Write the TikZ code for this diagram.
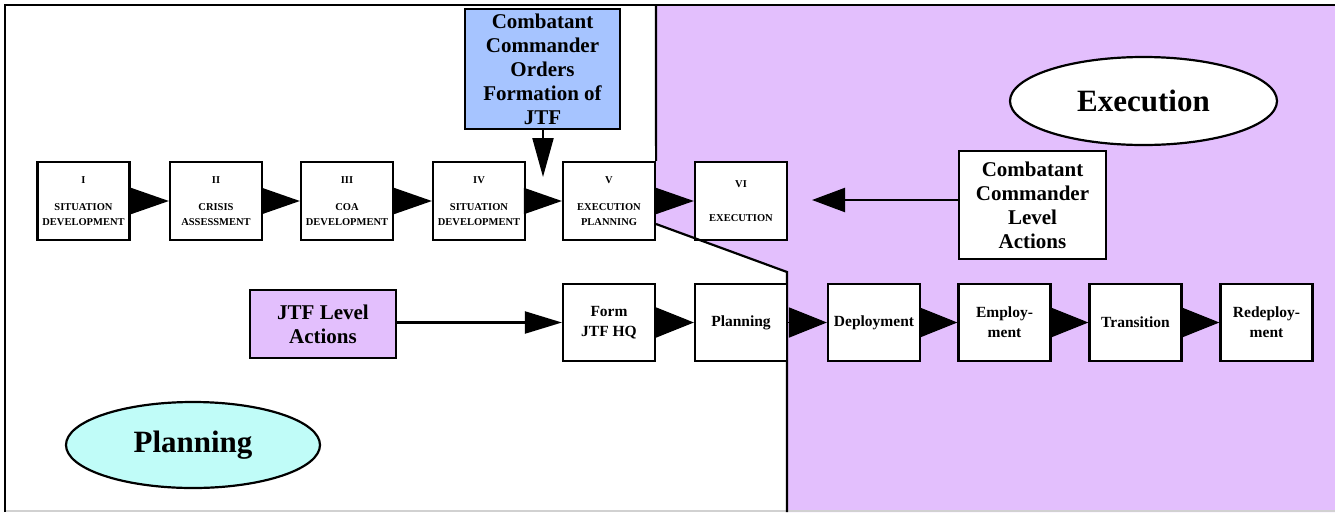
\documentclass[tikz,border=0pt]{standalone}
\usepackage{fontspec}
\setmainfont{Liberation Serif}
\usetikzlibrary{arrows.meta,shapes.geometric}
\definecolor{execpurple}{HTML}{E3BFFD}
\definecolor{ordersblue}{HTML}{A6C4FF}
\definecolor{plancyan}{HTML}{C0FCF8}
\tikzset{
  phasebox/.style={draw, line width=2.2pt, fill=white, minimum width=92, minimum height=78,
    inner sep=0pt, align=center, font=\bfseries\fontsize{10.5}{15}\selectfont},
  stagebox/.style={draw, line width=2.2pt, fill=white, minimum width=92, minimum height=77,
    inner sep=0pt, align=center, font=\bfseries\fontsize{15.5}{20}\selectfont},
  actionbox/.style={draw, line width=2.2pt, inner sep=0pt, align=center,
    font=\bfseries\fontsize{21}{24}\selectfont},
  phaseoval/.style={draw, ellipse, line width=2.2pt, inner sep=0pt,
    font=\bfseries\fontsize{31}{34}\selectfont},
  toparrow/.style={line width=1.8pt, -{Triangle[length=38pt,width=26pt]}},
  lowarrow/.style={line width=1.8pt, -{Triangle[length=38pt,width=30pt]}},
  feedarrow/.style={line width=2.2pt, -{Triangle[length=37pt,width=22pt]}},
  framerule/.style={line width=2.4pt},
  boundary/.style={line width=2.2pt}
}
\begin{document}
\begin{tikzpicture}[x=1pt,y=-1pt]
\useasboundingbox (0,0) rectangle (1335,512);

% execution side of the page
\fill[execpurple] (656,6) -- (1335,6) -- (1335,512) -- (787,512) -- (787,272) -- (656,224) -- cycle;
\draw[black!18, line width=1.5pt] (5,511.2) -- (1335,511.2);
\draw[framerule] (5,512) -- (5,5) -- (1335,5);

% crisis action planning phases
\node[phasebox] (p1) at (83.5,201) {I\\[12pt]SITUATION\\DEVELOPMENT};
\node[phasebox] (p2) at (216,201) {II\\[12pt]CRISIS\\ASSESSMENT};
\node[phasebox] (p3) at (347,201) {III\\[12pt]COA\\DEVELOPMENT};
\node[phasebox] (p4) at (479,201) {IV\\[12pt]SITUATION\\DEVELOPMENT};
\node[phasebox] (p5) at (609,201) {V\\[12pt]EXECUTION\\PLANNING};
\node[phasebox] (p6) at (741,201) {VI\\[19pt]EXECUTION};

% boundary between planning and execution
\coordinate (bendtop) at (656,224);
\coordinate (bendlow) at (787,272);
\draw[boundary] (656,5) -- (p5.north east);
\draw[boundary] (bendtop) -- (bendlow) -- (787,512);

% JTF stages
\node[stagebox] (s1) at (609,322.5) {Form\\JTF HQ};
\node[stagebox] (s2) at (741,322.5) {Planning};
\node[stagebox] (s3) at (874,322.5) {Deployment};
\node[stagebox] (s4) at (1004.5,322.5) {Employ-\\ment};
\node[stagebox] (s5) at (1135.5,322.5) {Transition};
\node[stagebox] (s6) at (1266.5,322.5) {Redeploy-\\ment};

% command level boxes
\node[actionbox, fill=ordersblue, minimum width=155, minimum height=120] (orders) at (542.5,69)
  {Combatant\\Commander\\Orders\\Formation of\\JTF};
\node[actionbox, fill=white, minimum width=147, minimum height=108] (ccla) at (1032.5,205)
  {Combatant\\Commander\\Level\\Actions};
\node[actionbox, fill=execpurple, minimum width=146, minimum height=68] (jtf) at (323,324)
  {JTF Level\\Actions};

% phase labels
\node[phaseoval, fill=white, minimum width=267, minimum height=88] (execlabel) at (1143.5,101) {Execution};
\node[phaseoval, fill=plancyan, minimum width=254, minimum height=86] (planlabel) at (193,445) {Planning};

% connectors
\draw[toparrow] (p1.east) -- (p2.west);
\draw[toparrow] (p2.east) -- (p3.west);
\draw[toparrow] (p3.east) -- (p4.west);
\draw[toparrow] (p4.east) -- (p5.west);
\draw[toparrow] (p5.east) -- (p6.west);

\draw[lowarrow] (s1.east) -- (s2.west);
\draw[lowarrow] (s2.east) -- (s3.west);
\draw[lowarrow] (s3.east) -- (s4.west);
\draw[lowarrow] (s4.east) -- (s5.west);
\draw[lowarrow] (s5.east) -- (s6.west);

\coordinate (ordtip) at (543,177);
\draw[line width=2.2pt, -{Triangle[length=39pt,width=21pt]}] (orders.south -| ordtip) -- (ordtip);

\coordinate (cctip) at (812,200);
\draw[line width=2.2pt, -{Triangle[length=33pt,width=24pt]}] (ccla.west |- cctip) -- (cctip);

\draw[feedarrow] (jtf.east |- s1.west) -- (s1.west);
\end{tikzpicture}
\end{document}
